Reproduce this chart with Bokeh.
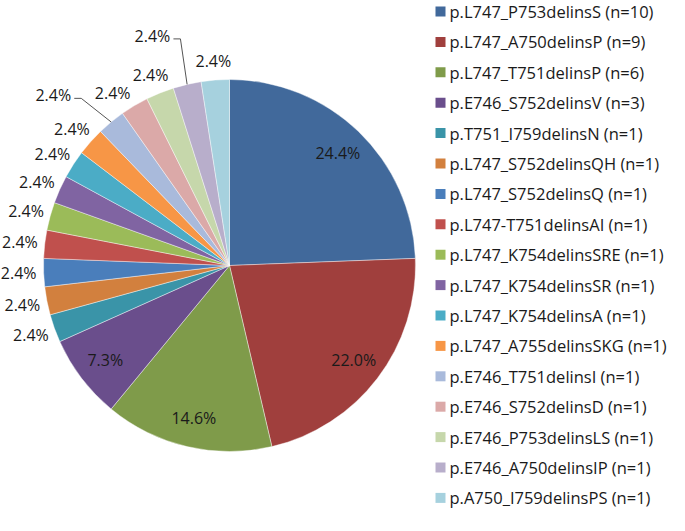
import math
from bokeh.plotting import figure
from bokeh.models import Range1d, ColumnDataSource
from bokeh.core.properties import value
from bokeh.embed import file_html
from bokeh.resources import INLINE

# ---- data ----
mutations = [
    "p.L747_P753delinsS", "p.L747_A750delinsP", "p.L747_T751delinsP",
    "p.E746_S752delinsV", "p.T751_I759delinsN", "p.L747_S752delinsQH",
    "p.L747_S752delinsQ", "p.L747-T751delinsAI", "p.L747_K754delinsSRE",
    "p.L747_K754delinsSR", "p.L747_K754delinsA", "p.L747_A755delinsSKG",
    "p.E746_T751delinsI", "p.E746_S752delinsD", "p.E746_P753delinsLS",
    "p.E746_A750delinsIP", "p.A750_I759delinsPS",
]
counts = [10, 9, 6, 3, 1, 1, 1, 1, 1, 1, 1, 1, 1, 1, 1, 1, 1]
colors = [
    "#41699B", "#A03F3D", "#7F9B4A", "#6A4E8C", "#3A94A8", "#D2803E",
    "#4A7EBB", "#C0504D", "#9BBB59", "#8064A2", "#4BACC6", "#F79646",
    "#A9BADB", "#DBA9A8", "#C6D7AB", "#B8AECB", "#A6D1DE",
]

# ---- layout (reference-pixel coordinates, y downwards) ----
W, H = 669, 515
def Y(ry):
    return 531 - ry

CX, CY, R = 229, 265, 186
FONT = value("Open Sans")

p = figure(width=W, height=H, x_range=Range1d(0, W), y_range=Range1d(531 - H, 531),
           output_backend="svg", toolbar_location=None, min_border=0,
           x_axis_location=None, y_axis_location=None)
p.grid.visible = False
p.outline_line_color = None
p.background_fill_color = "white"

total = sum(counts)
starts, ends, mids = [], [], []
cum = 0
for c in counts:
    a0 = cum / total * 2 * math.pi
    cum += c
    a1 = cum / total * 2 * math.pi
    starts.append(math.pi / 2 - a0)
    ends.append(math.pi / 2 - a1)
    mids.append((a0 + a1) / 2)  # clockwise from top

src = ColumnDataSource(dict(start=starts, end=ends, color=colors))
p.wedge(x=CX, y=Y(CY), radius=R, start_angle="start", end_angle="end",
        direction="clock", fill_color="color", line_color="white",
        line_alpha=0.6, line_width=0.7, source=src)

# ---- slice labels ----
nudges = {12: (-42, -12), 13: (-9, 4), 15: (-29, -30)}
leaders = {12, 15}
lx, ly, lt = [], [], []
lxs, lys = [], []
for i, (c, m) in enumerate(zip(counts, mids)):
    dx, dy = math.sin(m), -math.cos(m)
    txt = f"{100 * c / total:.1f}%"
    if c >= 3:
        r = 0.84 * R
        x, y = CX + dx * r, CY + dy * r
    else:
        x, y = CX + dx * 211, CY + dy * 205
        if i in nudges:
            x += nudges[i][0]
            y += nudges[i][1]
        if i in leaders:
            ex, ey = CX + dx * R, CY + dy * R
            lxs.append([x + 21, x + 28, ex])
            lys.append([Y(y + 3), Y(y + 3), Y(ey)])
    lx.append(x)
    ly.append(Y(y))
    lt.append(txt)

p.multi_line(xs=lxs, ys=lys, line_color="#555555", line_width=1)
p.text(x=lx, y=ly, text=lt, text_font=FONT, text_font_size="16px",
       text_align="center", text_baseline="middle", text_color="#1a1a1a")

# ---- legend ----
legend_labels = [f"{m} (n={c})" for m, c in zip(mutations, counts)]
rows = [11 + i * 30.4 for i in range(len(mutations))]
p.rect(x=[440] * len(rows), y=[Y(r) for r in rows], width=10, height=10,
       fill_color=colors, line_color=None)
p.text(x=[449] * len(rows), y=[Y(r) for r in rows], text=legend_labels,
       text_font=FONT, text_font_size="16.5px", text_align="left",
       text_baseline="middle", text_color="#1a1a1a")

open("out.html", "w").write(file_html(p, INLINE))
